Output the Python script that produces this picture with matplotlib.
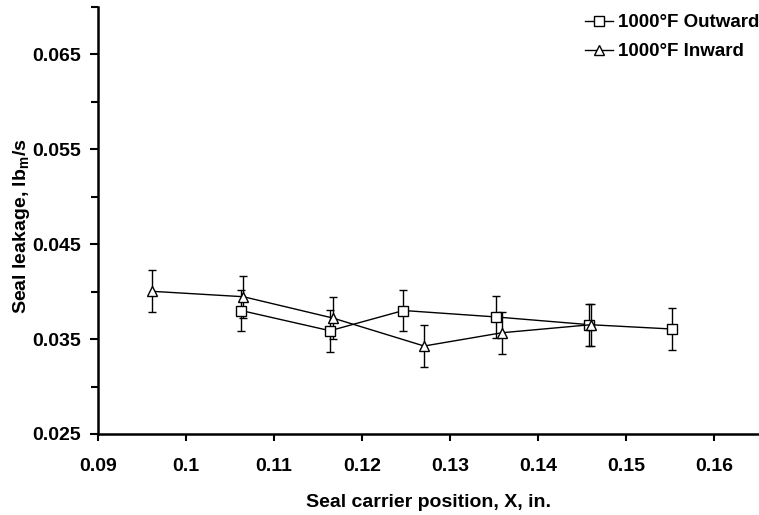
import matplotlib
matplotlib.use("Agg")
import matplotlib.pyplot as plt
from matplotlib.lines import Line2D

plt.rcParams['font.family'] = ['Liberation Sans', 'DejaVu Sans']
plt.rcParams['font.weight'] = 'bold'
plt.rcParams['mathtext.fontset'] = 'custom'
plt.rcParams['mathtext.bf'] = 'Liberation Sans:bold'
plt.rcParams['mathtext.rm'] = 'Liberation Sans:bold'

out_x = [0.10625, 0.11636, 0.12470, 0.13523, 0.14580, 0.15523]
out_y = [0.0380, 0.03587, 0.0380, 0.03732, 0.03651, 0.03605]
out_err = [0.0022, 0.0022, 0.0022, 0.0022, 0.0022, 0.0022]

in_x = [0.09614, 0.10652, 0.11667, 0.12705, 0.13591, 0.14606]
in_y = [0.04002, 0.03945, 0.03721, 0.03426, 0.03566, 0.03651]
in_err = [0.0022, 0.0022, 0.0022, 0.0022, 0.0022, 0.0022]

x_ticks = [0.09, 0.10, 0.11, 0.12, 0.13, 0.14, 0.15, 0.16]
x_labels = ['0.09', '0.1', '0.11', '0.12', '0.13', '0.14', '0.15', '0.16']
y_major = [0.025, 0.035, 0.045, 0.055, 0.065]
y_minor = [0.030, 0.040, 0.050, 0.060, 0.070]
series_names = ['1000°F Outward', '1000°F Inward']

fig = plt.figure(figsize=(7.59, 5.15), dpi=100)
ax = fig.add_axes([98/759, 1-434/515, 1-98/759, (434-6.5)/515])

ax.errorbar(out_x, out_y, yerr=out_err, color='black', lw=1.0, marker='s', ms=6.5,
            mfc='white', mec='black', mew=1.0, capsize=3, elinewidth=1.0, capthick=1.0)
ax.errorbar(in_x, in_y, yerr=in_err, color='black', lw=1.0, marker='^', ms=7.5,
            mfc='white', mec='black', mew=1.0, capsize=3, elinewidth=1.0, capthick=1.0)

ax.set_xlim(0.09, 0.1651)
ax.set_ylim(0.025, 0.07)
ax.set_xticks(x_ticks)
ax.set_xticklabels(x_labels)
ax.set_yticks(y_major)
ax.set_yticklabels([f'{v:.3f}' for v in y_major])
ax.set_yticks(y_minor, minor=True)

for s in ['top', 'right']:
    ax.spines[s].set_visible(False)
for s in ['left', 'bottom']:
    ax.spines[s].set_linewidth(1.8)

ax.tick_params(axis='x', which='major', labelsize=14, width=1.5, length=5, direction='out', pad=12)
ax.tick_params(axis='y', which='major', labelsize=14, width=1.5, length=6, direction='out', pad=6)
ax.tick_params(axis='y', which='minor', width=1.5, length=5, direction='out')
for lab in ax.get_xticklabels() + ax.get_yticklabels():
    lab.set_fontweight('bold')

ax.set_xlabel('Seal carrier position, X, in.', fontsize=14, fontweight='bold', labelpad=14)
ax.set_ylabel('Seal leakage, lb$_\\mathbf{m}$/s', fontsize=14, fontweight='bold', labelpad=2)
ax.yaxis.set_label_coords(-0.1, 0.485)

handles = [
    Line2D([], [], color='black', lw=1.0, marker='s', ms=6.5, mfc='white', mec='black', mew=1.0),
    Line2D([], [], color='black', lw=1.0, marker='^', ms=7.5, mfc='white', mec='black', mew=1.0),
]
leg = fig.legend(handles, series_names, loc='upper left', bbox_to_anchor=(585/759, 1-14/515),
                 frameon=False, fontsize=13.5, handlelength=1.5, handletextpad=0.25,
                 labelspacing=0.65, borderaxespad=0.0, borderpad=0.0)
for t in leg.get_texts():
    t.set_fontweight('bold')

fig.savefig('out.png', dpi=100)
